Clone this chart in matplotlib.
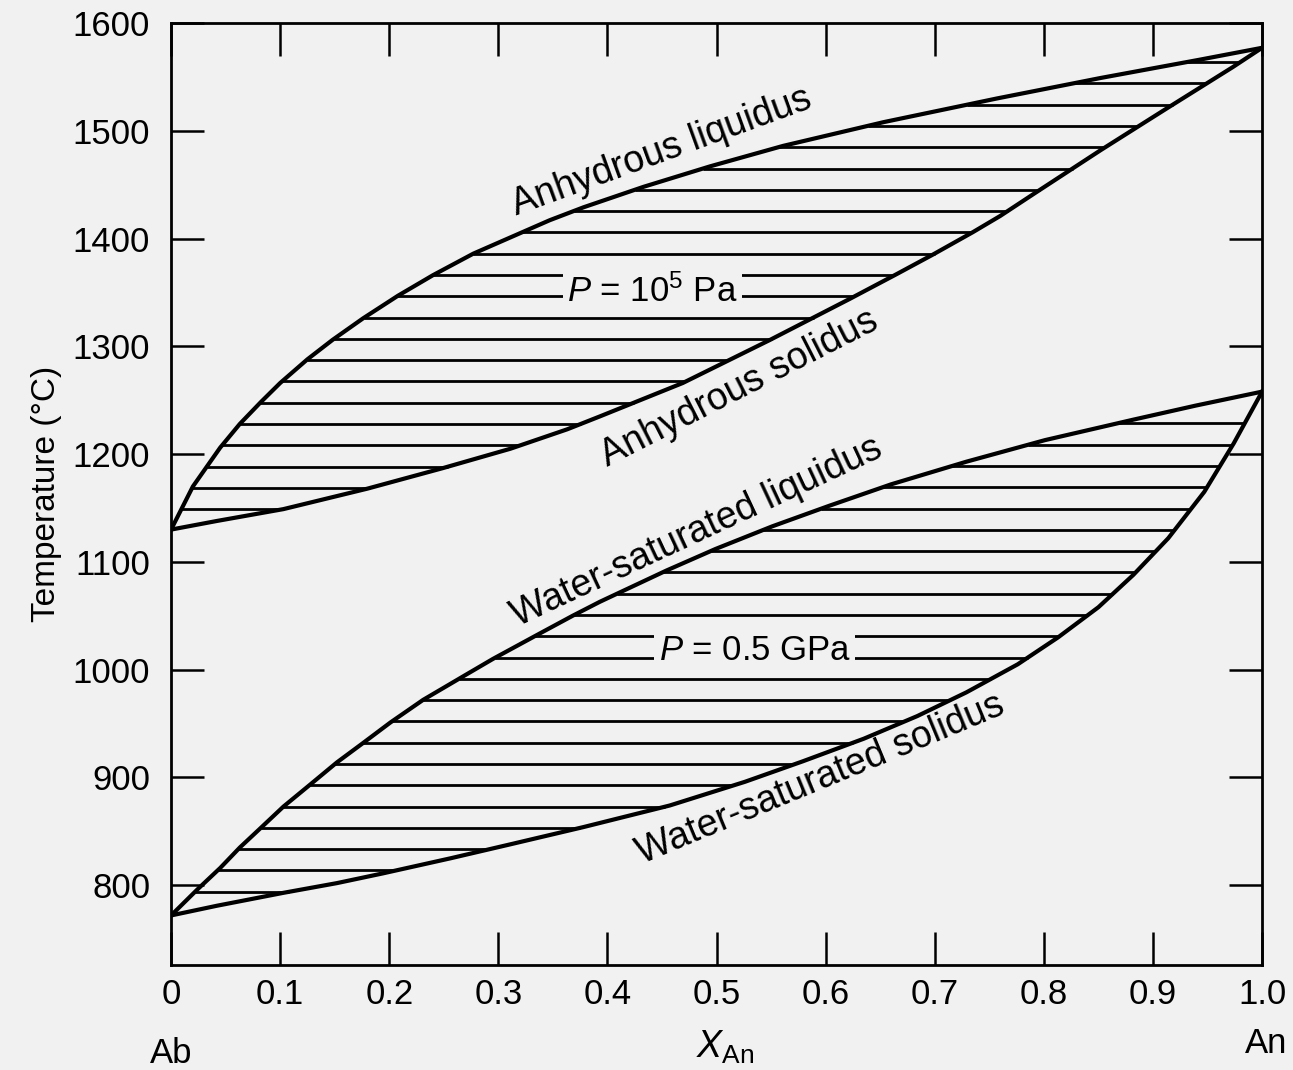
import numpy as np
import matplotlib
matplotlib.use('Agg')
import matplotlib.pyplot as plt

# anhydrous melting loop, P = 1e5 Pa
anh_liq_x = [0, .020, .045, .063, .082, .100, .125, .148, .176, .208, .240, .277,
             .347, .378, .433, .494, .561, .653, .757, .852, .943, 1.0]
anh_liq_t = [1130, 1170, 1206, 1228, 1248, 1266, 1288, 1306, 1326, 1347, 1366, 1386,
             1417, 1429, 1448, 1467, 1486, 1508, 1530, 1549, 1566, 1577]
anh_sol_x = [0, .042, .103, .180, .249, .311, .363, .393, .469, .549, .622, .665,
             .698, .735, .760, .790, .852, .913, .973, 1.0]
anh_sol_t = [1130, 1138, 1149, 1168, 1187, 1205, 1223, 1235, 1266, 1306, 1344, 1367,
             1385, 1406, 1421, 1441, 1482, 1521, 1559, 1577]

# water-saturated melting loop, P = 0.5 GPa
wet_liq_x = [0, .024, .045, .063, .082, .103, .127, .152, .176, .201, .231, .268,
             .295, .335, .368, .393, .454, .499, .551, .603, .660, .729, .801, .882,
             .939, 1.0]
wet_liq_t = [772, 796, 816, 835, 853, 873, 893, 914, 932, 951, 972, 994,
             1010, 1032, 1050, 1063, 1092, 1112, 1133, 1152, 1172, 1193, 1213, 1232,
             1245, 1258]
wet_sol_x = [0, .042, .103, .152, .194, .256, .311, .378, .457, .526, .579, .635,
             .684, .729, .776, .813, .850, .882, .914, .947, .974, 1.0]
wet_sol_t = [772, 781, 793, 802, 811, 825, 838, 854, 874, 896, 915, 936,
             957, 979, 1005, 1030, 1058, 1088, 1122, 1165, 1210, 1258]

xticks = [0, .1, .2, .3, .4, .5, .6, .7, .8, .9, 1.0]
xticklabels = ['0', '0.1', '0.2', '0.3', '0.4', '0.5', '0.6', '0.7', '0.8', '0.9', '1.0']
yticks = [800, 900, 1000, 1100, 1200, 1300, 1400, 1500, 1600]

bg = '#f1f1f1'
plt.rcParams['font.family'] = ['Liberation Sans', 'DejaVu Sans']
plt.rcParams['mathtext.fontset'] = 'custom'
plt.rcParams['mathtext.rm'] = 'Liberation Sans'
plt.rcParams['mathtext.it'] = 'Liberation Sans:italic'

fig = plt.figure(figsize=(12.93, 10.70), dpi=100, facecolor=bg)
ax = fig.add_axes([0.1323, 0.0981, 0.8438, 0.8804])
ax.set_facecolor(bg)

hatch_step = 19.75


def loop(lx, lt, sx, st, t0, tmax):
    # tie lines between liquidus and solidus
    for t in np.arange(t0, tmax, hatch_step):
        x1 = np.interp(t, lt, lx)
        x2 = np.interp(t, st, sx)
        ax.plot([x1, x2], [t, t], color='black', lw=2.0, zorder=1,
                solid_capstyle='butt')
    ax.plot(lx, lt, color='black', lw=3.0, zorder=3, solid_joinstyle='round')
    ax.plot(sx, st, color='black', lw=3.0, zorder=3, solid_joinstyle='round')


loop(anh_liq_x, anh_liq_t, anh_sol_x, anh_sol_t, 1149, 1575)
loop(wet_liq_x, wet_liq_t, wet_sol_x, wet_sol_t, 794, 1240)

ax.set_xlim(0, 1.0)
ax.set_ylim(726, 1600)
ax.set_xticks(xticks)
ax.set_xticklabels(xticklabels)
ax.set_yticks(yticks)
ax.tick_params(axis='both', direction='in', length=24, width=1.8,
               top=True, right=True, labelsize=25)
ax.tick_params(axis='x', pad=9)
ax.tick_params(axis='y', pad=15)
for s in ax.spines.values():
    s.set_linewidth(2.0)

ax.set_ylabel('Temperature (°C)', fontsize=24, labelpad=8)

ax.text(0.508, -0.098, r'$X_{\mathrm{An}}$', transform=ax.transAxes,
        ha='center', va='baseline', fontsize=27)
ax.text(0.0, -0.104, 'Ab', transform=ax.transAxes, ha='center', va='baseline',
        fontsize=25)
ax.text(1.004, -0.093, 'An', transform=ax.transAxes, ha='center', va='baseline',
        fontsize=25)

box = dict(facecolor=bg, edgecolor='none', pad=3)
ax.text(0.441, 1341, r'$P$ = 10$^5$ Pa', ha='center', va='baseline',
        fontsize=25, bbox=box, zorder=4)
ax.text(0.535, 1009, r'$P$ = 0.5 GPa', ha='center', va='baseline',
        fontsize=25, bbox=box, zorder=4)

lab = dict(ha='center', va='center', rotation_mode='anchor', fontsize=27, zorder=4)
ax.text(0.450, 1480, 'Anhydrous liquidus', rotation=20, **lab)
ax.text(0.521, 1261, 'Anhydrous solidus', rotation=27, **lab)
ax.text(0.482, 1128, 'Water-saturated liquidus', rotation=25, **lab)
ax.text(0.595, 898, 'Water-saturated solidus', rotation=22.5, **lab)

fig.savefig('out.png', dpi=100, facecolor=bg)
